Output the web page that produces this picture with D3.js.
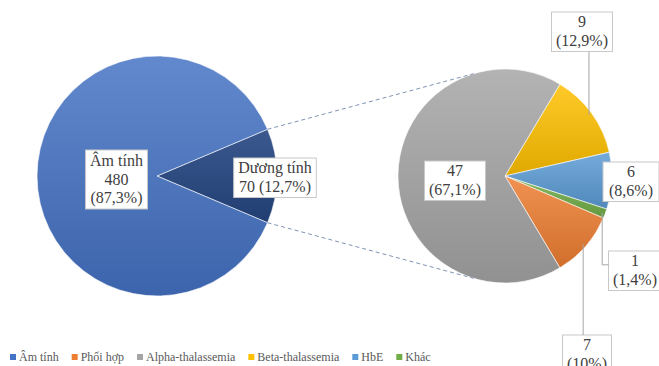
<!DOCTYPE html>
<html>
<head>
<meta charset="utf-8">
<script src="https://cdn.jsdelivr.net/npm/d3@7"></script>
<style>
  html, body { margin: 0; padding: 0; background: #fff; }
  svg { display: block; }
</style>
</head>
<body>
<div id="chart"></div>
<script>
// main pie
const mainLabels = ["Dương tính", "Âm tính"];
const mainValues = [70, 480];
const mainPct = ["12,7%", "87,3%"];

// secondary pie (breakdown of "Dương tính"), clockwise order
const subLabels = ["Beta-thalassemia", "HbE", "Khác", "Phối hợp", "Alpha-thalassemia"];
const subValues = [9, 6, 1, 7, 47];
const subPct = ["12,9%", "8,6%", "1,4%", "10%", "67,1%"];

// legend
const legendLabels = ["Âm tính", "Phối hợp", "Alpha-thalassemia", "Beta-thalassemia", "HbE", "Khác"];

const colors = {
    "Âm tính": "#4472C4",
    "Dương tính": "#264682",
    "Phối hợp": "#ED7D31",
    "Alpha-thalassemia": "#A5A5A5",
    "Beta-thalassemia": "#FFC000",
    "HbE": "#5B9BD5",
    "Khác": "#70AD47"
};

const serif = "'Liberation Serif', 'Times New Roman', Tinos, 'DejaVu Serif', serif";
const width = 659, height = 366;
const svg = d3.select("#chart").append("svg")
    .attr("width", width).attr("height", height)
    .attr("font-family", serif);

const defs = svg.append("defs");
const gradId = name => "g" + Object.keys(colors).indexOf(name);
Object.keys(colors).forEach(k => {
    const base = colors[k];
    const grad = defs.append("linearGradient")
        .attr("id", gradId(k))
        .attr("x1", 0).attr("y1", 0).attr("x2", 0).attr("y2", 1);
    grad.append("stop").attr("offset", "0%")
        .attr("stop-color", d3.interpolateRgb(base, "#fff")(k === "Dương tính" ? 0.1 : 0.16));
    grad.append("stop").attr("offset", "100%")
        .attr("stop-color", d3.interpolateRgb(base, "#000")(0.12));
});

const textColor = "#404040";

// left pie
const L = {cx: 157, cy: 176, r: 120};
const posSpan = mainValues[0] / d3.sum(mainValues) * 2 * Math.PI;
const mainPie = d3.pie().sort(null)
    .startAngle(Math.PI / 2 - posSpan / 2)
    .endAngle(Math.PI / 2 - posSpan / 2 + 2 * Math.PI);
const mainArcs = mainPie(mainValues);
const arcL = d3.arc().innerRadius(0).outerRadius(L.r);

const gL = svg.append("g").attr("transform", `translate(${L.cx},${L.cy})`);
gL.selectAll("path")
    .data(mainArcs)
    .join("path")
    .attr("d", arcL)
    .attr("fill", (d, i) => `url(#${gradId(mainLabels[i])})`)
    .attr("stroke", "#fff")
    .attr("stroke-width", 0.6);

// right pie
const R = {cx: 505, cy: 176, r: 107};
const subTotal = d3.sum(subValues);
const alphaSpan = subValues[4] / subTotal * 2 * Math.PI;
const subStart = 1.5 * Math.PI + alphaSpan / 2 - 2 * Math.PI;
const subPie = d3.pie().sort(null)
    .startAngle(subStart)
    .endAngle(subStart + 2 * Math.PI);
const subArcs = subPie(subValues);
const arcR = d3.arc().innerRadius(0).outerRadius(R.r);

const gR = svg.append("g").attr("transform", `translate(${R.cx},${R.cy})`);
gR.selectAll("path")
    .data(subArcs)
    .join("path")
    .attr("d", arcR)
    .attr("fill", (d, i) => `url(#${gradId(subLabels[i])})`)
    .attr("stroke", "#fff")
    .attr("stroke-width", 0.6);

// dashed connectors between the pies
const polar = (c, r, a) => [c.cx + r * Math.sin(a), c.cy - r * Math.cos(a)];
const pos = mainArcs[0];
const tilt = 17 * Math.PI / 180;
const connectors = [
    [polar(L, L.r, pos.startAngle), polar(R, R.r, -tilt)],
    [polar(L, L.r, pos.endAngle), polar(R, R.r, Math.PI + tilt)]
];
svg.append("g").selectAll("line")
    .data(connectors)
    .join("line")
    .attr("x1", d => d[0][0]).attr("y1", d => d[0][1])
    .attr("x2", d => d[1][0]).attr("y2", d => d[1][1])
    .attr("stroke", "#7f94b4")
    .attr("stroke-width", 1)
    .attr("stroke-dasharray", "4,3");

// label boxes
const labelG = svg.append("g");
function labelBox(lines, x, y, minW) {
    const g = labelG.append("g");
    const rect = g.append("rect");
    const t = g.append("text")
        .attr("text-anchor", "middle")
        .attr("font-size", 16)
        .attr("fill", textColor);
    lines.forEach((s, i) => {
        t.append("tspan").attr("x", x).attr("y", y + i * 18.5).text(s);
    });
    const bb = t.node().getBBox();
    const w = Math.max(bb.width + 9, minW || 0);
    rect.attr("x", x - w / 2).attr("y", bb.y - 1)
        .attr("width", w).attr("height", bb.height + 3)
        .attr("fill", "#fff")
        .attr("stroke", "#c8c8c8")
        .attr("stroke-width", 1);
    return {x: x - w / 2, y: bb.y - 1, w: w, h: bb.height + 3};
}

labelBox([mainLabels[1], String(mainValues[1]), `(${mainPct[1]})`], 116.5, 166);
labelBox([mainLabels[0], `${mainValues[0]} (${mainPct[0]})`], 275, 173);

// leader lines for the small slices
const leaderColor = "#a6a6a6";
const leaders = svg.append("g")
    .attr("fill", "none")
    .attr("stroke", leaderColor)
    .attr("stroke-width", 1);
const anchor = i => {
    const a = (subArcs[i].startAngle + subArcs[i].endAngle) / 2;
    return polar(R, R.r * 0.97, a);
};

// Beta
let p = anchor(0);
let b = labelBox([String(subValues[0]), `(${subPct[0]})`], 582, 27);
leaders.append("path").attr("d", d3.line()([[p[0], p[1]], [p[0], b.y + b.h]]));

// HbE
labelBox([String(subValues[1]), `(${subPct[1]})`], 631, 177, 56);

// Khác
p = anchor(2);
b = labelBox([String(subValues[2]), `(${subPct[2]})`], 635, 266);
leaders.append("path").attr("d", d3.line()([[p[0], p[1]], [p[0], b.y + b.h * 0.35], [b.x, b.y + b.h * 0.35]]));

// Phối hợp
p = anchor(3);
b = labelBox([String(subValues[3]), `(${subPct[3]})`], 587, 350);
leaders.append("path").attr("d", d3.line()([[p[0], p[1]], [p[0], b.y]]));

// Alpha
labelBox([String(subValues[4]), `(${subPct[4]})`], 455, 176);

// legend
const legend = svg.append("g").attr("transform", "translate(10,357)");
let lx = 0;
legendLabels.forEach(name => {
    const item = legend.append("g").attr("transform", `translate(${lx},0)`);
    item.append("rect")
        .attr("x", 0).attr("y", -3)
        .attr("width", 6).attr("height", 6)
        .attr("fill", colors[name]);
    const t = item.append("text")
        .attr("x", 9).attr("y", 4)
        .attr("font-size", 12)
        .attr("fill", "#595959")
        .text(name);
    lx += 9 + t.node().getComputedTextLength() + 13;
});
</script>
</body>
</html>
